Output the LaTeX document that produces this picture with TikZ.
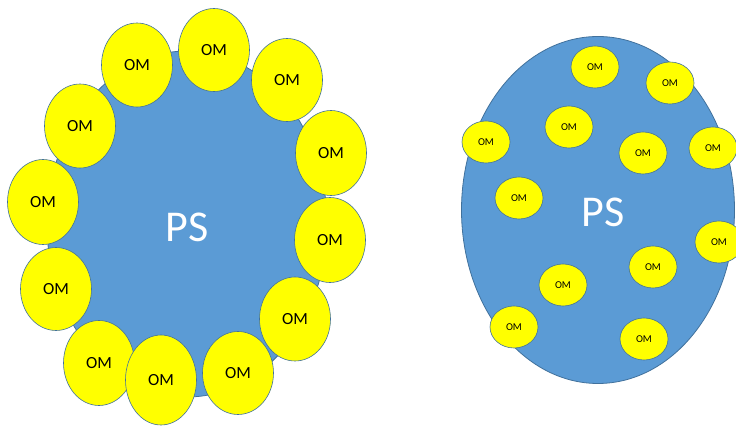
\documentclass[tikz,border=0pt]{standalone}
\usepackage{fontspec}
\setmainfont{Carlito}
\usetikzlibrary{shapes.geometric}
\definecolor{psblue}{HTML}{5B9BD5}
\definecolor{psedge}{HTML}{41719C}
\definecolor{omyellow}{HTML}{FFFF00}

\begin{document}
\begin{tikzpicture}[
  x=1pt,y=-1pt,
  ps/.style={ellipse, draw=psedge, line width=0.8pt, fill=psblue, inner sep=0pt},
  pslabel/.style={text=white, inner sep=0pt, font=\fontsize{44}{44}\selectfont},
  om/.style={ellipse, draw=psedge, line width=0.6pt, fill=omyellow, inner sep=0pt, text=black},
  bigom/.style={om, minimum width=71pt, font=\fontsize{17}{17}\selectfont},
  smallom/.style={om, minimum width=48pt, minimum height=42pt, font=\fontsize{10.5}{10.5}\selectfont}
]
\useasboundingbox (0,0) rectangle (736,427);
% left: OM round the edge of PS
\node[ps, minimum width=280pt, minimum height=346pt] (psL) at (187,224) {};
\node[pslabel] (psLtext) at (187,227) {PS};
\foreach \x/\y/\h [count=\i] in {137/65/84, 214/50/83, 287/80/83, 331/153/85, 330/240/85,
    295/319/84, 238/373/83, 99/363/85, 161/380/90, 56/289/83, 43/202/85, 80/126/84}
  \node[bigom, minimum height=\h pt] (omL\i) at (\x,\y) {OM};
% right: OM spread inside PS
\node[ps, minimum width=273pt, minimum height=347pt] (psR) at (598,210) {};
\node[pslabel] (psRtext) at (603,212) {PS};
\foreach \x/\y [count=\i] in {595/67, 670/83, 486/142, 569/127, 643/153, 713/148,
    519/198, 719/242, 653/267, 563/285, 514/327, 644/339}
  \node[smallom] (omR\i) at (\x,\y) {OM};
\end{tikzpicture}
\end{document}
